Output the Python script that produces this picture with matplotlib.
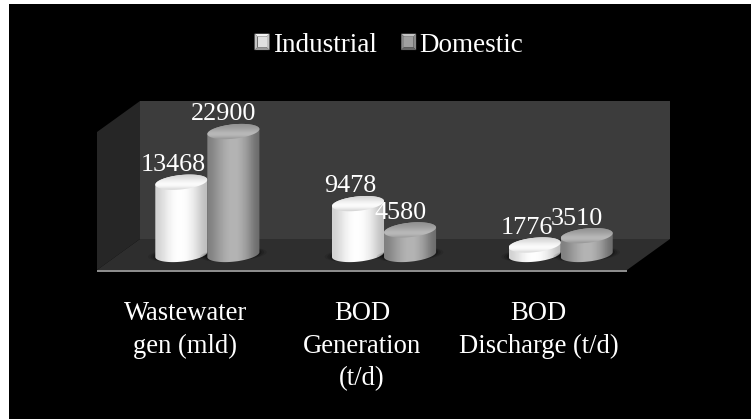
import numpy as np
import matplotlib
matplotlib.use("Agg")
import matplotlib.pyplot as plt
from matplotlib.patches import Polygon, Rectangle, PathPatch
from matplotlib.path import Path
from matplotlib.legend_handler import HandlerBase

categories = ["Wastewater\ngen (mld)", "BOD\nGeneration\n(t/d)", "BOD\nDischarge (t/d)"]
industrial = [13468, 9478, 1776]
domestic = [22900, 4580, 3510]

W, H = 751, 419
PX_PER_VALUE = 0.00537   # pixels per unit on the value axis
PX_PER_CAT = 176.5
BAR_PX = 52

plt.rcParams['font.family'] = ['Liberation Serif', 'DejaVu Serif']

fig = plt.figure(figsize=(W / 100, H / 100), dpi=100, facecolor='white')

# black panel and the fake 3d room, in pixel coords
bg = fig.add_axes([0, 0, 1, 1])
bg.set_xlim(0, W)
bg.set_ylim(H, 0)
bg.axis('off')
bg.add_patch(Rectangle((9, 4), W - 9, H - 4, color='black', lw=0))
bg.add_patch(Polygon([(140, 101), (670, 101), (670, 239), (140, 239)], color='#3c3c3c', lw=0))
bg.add_patch(Polygon([(97, 132), (140, 101), (140, 239), (97, 270)], color='#262626', lw=0))
bg.add_patch(Polygon([(140, 239), (670, 239), (627, 270), (97, 270)], color='#2e2e2e', lw=0))
bg.add_patch(Rectangle((97, 270), 530, 2, color='#8c8c8c', lw=0))

# value axes: x is category index, y is the value
base_px = 254.5
top_px = 100
ax = fig.add_axes([97 / W, (H - base_px) / H, 530 / W, (base_px - top_px) / H])
ax.patch.set_alpha(0)
ax.set_xlim(-0.5, 2.5)
ax.set_ylim(0, (base_px - top_px) / PX_PER_VALUE)
for s in ax.spines.values():
    s.set_visible(False)
ax.set_yticks([])

depth = 22 / PX_PER_CAT
half_w = BAR_PX / 2 / PX_PER_CAT
rx = half_w
ry = 7.2 / PX_PER_VALUE
tilt = 2.5 / PX_PER_VALUE

side_ind = [0.82, 0.92, 0.99, 1.0, 0.97, 0.88, 0.74]
side_dom = [0.50, 0.60, 0.68, 0.72, 0.68, 0.58, 0.42]
top_ind = [0.80, 0.88, 0.97, 1.0, 0.80]
top_dom = [0.56, 0.60, 0.68, 0.76, 0.56]


def ring(cx, v, n=80):
    t = np.linspace(0, 2 * np.pi, n)
    return cx + rx * np.cos(t), v + ry * np.sin(t) + tilt * np.cos(t)


def cylinder(cx, v, side, top, z):
    # floor shadow
    sx, sy = ring(cx, 0)
    for k, a in zip([1.28, 1.18, 1.08], [0.1, 0.16, 0.25]):
        ax.fill(cx + (sx - cx) * k, sy * 0.95, color='black', alpha=a, lw=0, zorder=z - 1, clip_on=False)

    # body outline: lower half of base ring, upper half of top ring
    t = np.linspace(np.pi, 2 * np.pi, 60)
    low_x = cx + rx * np.cos(t)
    low_y = ry * np.sin(t) + tilt * np.cos(t)
    t2 = t - np.pi
    up_x = cx + rx * np.cos(t2)
    up_y = v + ry * np.sin(t2) + tilt * np.cos(t2)
    body = Path(np.column_stack([np.r_[low_x, up_x], np.r_[low_y, up_y]]))
    lo, hi = cx - half_w, cx + half_w
    im = ax.imshow(np.array(side)[None, :], cmap='gray', vmin=0, vmax=1, aspect='auto',
                   interpolation='bicubic', extent=[lo, hi, -ry * 1.5, v + ry * 1.5], zorder=z)
    im.set_clip_path(PathPatch(body, transform=ax.transData))
    im.set_clip_box(fig.bbox)

    # lid
    x, y = ring(cx, v)
    lid = Path(np.column_stack([x, y]))
    im2 = ax.imshow(np.array(top)[:, None], cmap='gray', vmin=0, vmax=1, aspect='auto',
                    interpolation='bicubic', origin='upper',
                    extent=[lo, hi, v - ry - tilt, v + ry + tilt], zorder=z + 0.5)
    im2.set_clip_path(PathPatch(lid, transform=ax.transData))
    im2.set_clip_box(fig.bbox)


for i in range(len(categories)):
    cx1 = i + depth - half_w
    cx2 = i + depth + half_w
    cylinder(cx1, industrial[i], side_ind, top_ind, 3)
    cylinder(cx2, domestic[i], side_dom, top_dom, 4)
    ax.annotate(str(industrial[i]), (cx1, industrial[i]), xytext=(-5.5, 8), textcoords='offset points',
                ha='center', va='baseline', color='white', fontsize=18.8, zorder=8)
    ax.annotate(str(domestic[i]), (cx2, domestic[i]), xytext=(-7, 8), textcoords='offset points',
                ha='center', va='baseline', color='white', fontsize=18.8, zorder=8)

ax.set_xlim(-0.5, 2.5)
ax.set_ylim(0, (base_px - top_px) / PX_PER_VALUE)
ax.set_xticks(range(len(categories)))
ax.set_xticklabels(categories, color='white', fontsize=19.2, linespacing=1.4)
ax.tick_params(axis='x', length=0, pad=33.5)


class BevelHandler(HandlerBase):
    def __init__(self, light, mid, dark):
        super().__init__()
        self.cols = (light, mid, dark)

    def create_artists(self, legend, orig, xd, yd, w, h, fs, trans):
        light, mid, dark = self.cols
        m = w * 0.2
        x0, y0 = -xd, -yd
        c = [(x0, y0), (x0 + w, y0), (x0 + w, y0 + h), (x0, y0 + h)]
        i = [(x0 + m, y0 + m), (x0 + w - m, y0 + m), (x0 + w - m, y0 + h - m), (x0 + m, y0 + h - m)]
        shades = [dark, mid, light, mid]
        out = []
        for k in range(4):
            out.append(Polygon([c[k], c[(k + 1) % 4], i[(k + 1) % 4], i[k]], color=shades[k], lw=0, transform=trans))
        out.append(Polygon(i, color=legend_fill[id(orig)], lw=0, transform=trans))
        return out


h1 = Rectangle((0, 0), 1, 1)
h2 = Rectangle((0, 0), 1, 1)
legend_fill = {id(h1): '#e0e0e0', id(h2): '#a0a0a0'}
fig.legend([h1, h2], ["Industrial", "Domestic"],
           handler_map={h1: BevelHandler('#f2f2f2', '#c4c4c4', '#9a9a9a'),
                        h2: BevelHandler('#c4c4c4', '#8a8a8a', '#666666')},
           loc='center', bbox_to_anchor=(389 / W, 1 - 45 / H), ncol=2, frameon=False,
           labelcolor='white', fontsize=19.5, handlelength=0.55, handleheight=0.55,
           handletextpad=0.13, columnspacing=0.9, borderpad=0)

fig.savefig("out.png", dpi=100, facecolor='white')
